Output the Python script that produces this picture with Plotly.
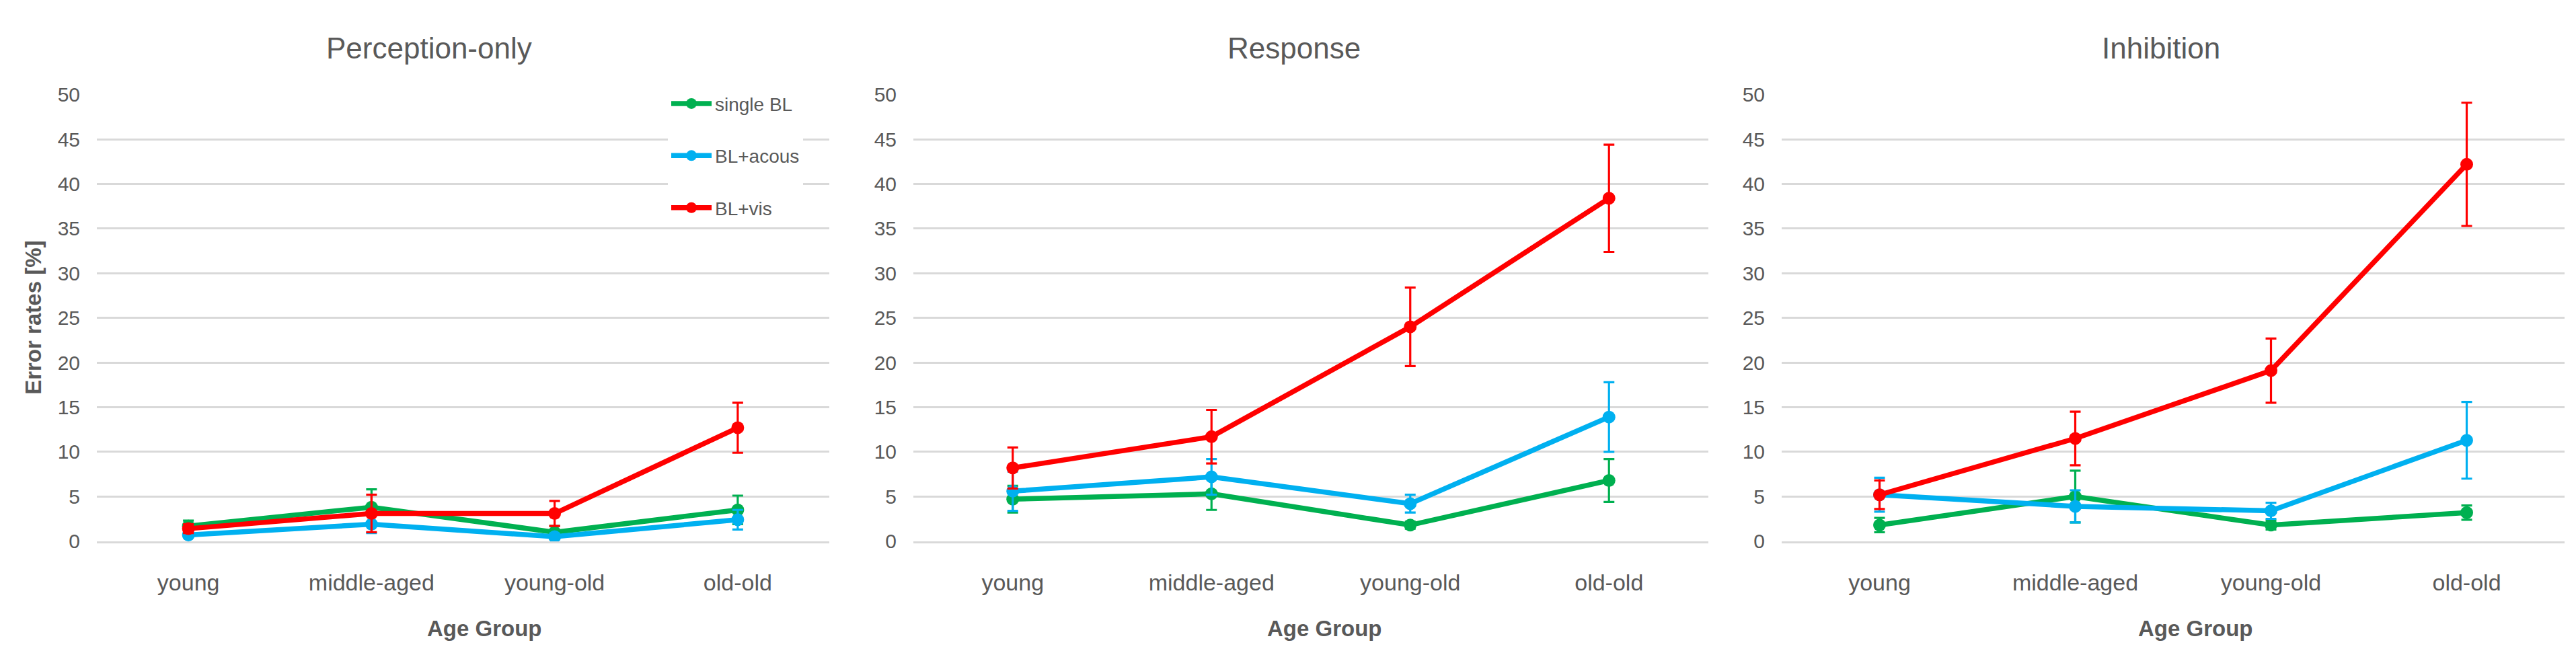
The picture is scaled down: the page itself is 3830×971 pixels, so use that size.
import plotly.graph_objects as go

W, H = 3830, 971

categories = ["young", "middle-aged", "young-old", "old-old"]
panels = ["Perception-only", "Response", "Inhibition"]
series_names = ["single BL", "BL+acous", "BL+vis"]
series_colors = ["#00B050", "#00B0F0", "#FF0000"]
y_ticks = [0, 5, 10, 15, 20, 25, 30, 35, 40, 45, 50]

# Perception-only
perc_single = [1.7, 3.8, 1.0, 3.5]
perc_single_err = [0.6, 2.0, 0.7, 1.6]
perc_acous = [0.7, 1.9, 0.5, 2.4]
perc_acous_err = [0.3, 1.0, 0.3, 1.1]
perc_vis = [1.4, 3.1, 3.1, 12.7]
perc_vis_err = [0.5, 2.1, 1.4, 2.8]

# Response
resp_single = [4.7, 5.3, 1.8, 6.8]
resp_single_err = [1.5, 1.8, 0.4, 2.4]
resp_acous = [5.6, 7.2, 4.2, 13.9]
resp_acous_err = [2.2, 2.0, 1.0, 3.9]
resp_vis = [8.2, 11.7, 24.0, 38.4]
resp_vis_err = [2.3, 3.0, 4.4, 6.0]

# Inhibition
inh_single = [1.8, 5.0, 1.8, 3.2]
inh_single_err = [0.8, 2.9, 0.5, 0.8]
inh_acous = [5.2, 3.9, 3.4, 11.3]
inh_acous_err = [1.9, 1.8, 0.9, 4.3]
inh_vis = [5.2, 11.5, 19.1, 42.2]
inh_vis_err = [1.6, 3.0, 3.6, 6.9]

panel_data = [
    [(perc_single, perc_single_err), (perc_acous, perc_acous_err), (perc_vis, perc_vis_err)],
    [(resp_single, resp_single_err), (resp_acous, resp_acous_err), (resp_vis, resp_vis_err)],
    [(inh_single, inh_single_err), (inh_acous, inh_acous_err), (inh_vis, inh_vis_err)],
]

# layout geometry (pixels)
x_domains_px = [(136, 1225), (1350, 2532), (2641, 3805)]
y_top_px, y_bot_px = 120, 808
title_x_px = [630, 1916, 3205]
xtitle_x_px = [712, 1961, 3256]

FONT = "Liberation Sans"
TXT = "#595959"

def px2x(p):
    return p / W

def px2y(p):
    return 1 - p / H

fig = go.Figure()

for pi, pdata in enumerate(panel_data):
    xa = "x" if pi == 0 else f"x{pi+1}"
    ya = "y" if pi == 0 else f"y{pi+1}"
    for si, (vals, errs) in enumerate(pdata):
        fig.add_trace(go.Scatter(
            x=categories, y=vals,
            mode="lines+markers",
            name=series_names[si],
            legendgroup=series_names[si],
            showlegend=(pi == 0),
            line=dict(color=series_colors[si], width=7.5),
            marker=dict(color=series_colors[si], size=19),
            error_y=dict(type="data", array=errs, visible=True,
                         color=series_colors[si], thickness=3.2, width=8),
            cliponaxis=False,
            xaxis=xa, yaxis=ya,
        ))

layout = dict(
    width=W, height=H,
    margin=dict(l=0, r=0, t=0, b=0),
    paper_bgcolor="white", plot_bgcolor="white",
    font=dict(family=FONT, color=TXT),
    legend=dict(
        x=px2x(985), y=px2y(108), xanchor="left", yanchor="top",
        bgcolor="white", font=dict(size=28, color=TXT, family=FONT),
        tracegroupgap=38, itemwidth=60,
    ),
    annotations=[],
)

for pi in range(3):
    sx = "" if pi == 0 else str(pi + 1)
    d0, d1 = x_domains_px[pi]
    layout[f"xaxis{sx}"] = dict(
        domain=[px2x(d0), px2x(d1)],
        anchor=f"y{sx}",
        type="category",
        categoryorder="array", categoryarray=categories,
        range=[-0.5, 3.5],
        showgrid=False, zeroline=False,
        showline=True, linecolor="#D9D9D9", linewidth=2.5,
        ticks="",
        tickfont=dict(size=34, color=TXT, family=FONT),
        ticklabelstandoff=30,
    )
    layout[f"yaxis{sx}"] = dict(
        domain=[px2y(y_bot_px), px2y(y_top_px)],
        anchor=f"x{sx}",
        range=[0, 50],
        tickvals=y_ticks,
        showgrid=True, gridcolor="#D9D9D9", gridwidth=2.5,
        zeroline=False, showline=False,
        ticks="",
        tickfont=dict(size=30, color=TXT, family=FONT),
        ticklabelstandoff=24,
    )
    layout["annotations"].append(dict(
        text=panels[pi], xref="paper", yref="paper",
        x=px2x(title_x_px[pi]), y=px2y(48), xanchor="center", yanchor="middle",
        showarrow=False, font=dict(size=44, color=TXT, family=FONT),
    ))
    layout["annotations"].append(dict(
        text="<b>Age Group</b>", xref="paper", yref="paper",
        x=px2x(xtitle_x_px[pi]), y=px2y(943), xanchor="center", yanchor="middle",
        showarrow=False, font=dict(size=33, color=TXT, family=FONT),
    ))

layout["annotations"].append(dict(
    text="<b>Error rates [%]</b>", xref="paper", yref="paper",
    x=px2x(42), y=px2y(464), xanchor="center", yanchor="middle",
    textangle=-90, showarrow=False, font=dict(size=33, color=TXT, family=FONT),
))

fig.update_layout(**layout)
fig.write_html("out.html")
